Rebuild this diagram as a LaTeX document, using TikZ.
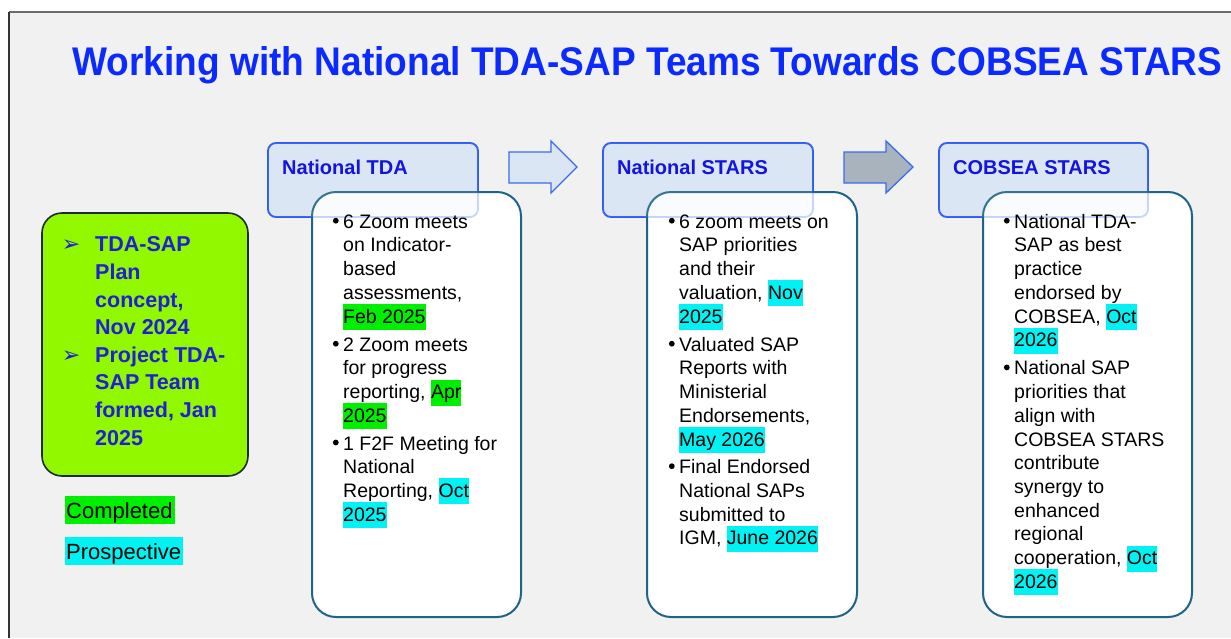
\documentclass[tikz,border=0pt]{standalone}
\usepackage{fontspec}
\setmainfont{Liberation Sans}
\newfontfamily\dejavu{DejaVu Sans}
\usepackage{graphicx}
\definecolor{bgc}{HTML}{F1F1F1}
\definecolor{titleblue}{HTML}{0A2AFF}
\definecolor{hdrtext}{HTML}{1414E0}
\definecolor{hdrfill}{HTML}{DAE6F4}
\definecolor{hdrborder}{HTML}{2A5BF5}
\definecolor{bodyborder}{HTML}{1E6485}
\definecolor{greenfill}{HTML}{92F800}
\definecolor{greenborder}{HTML}{1E2A38}
\definecolor{greentext}{HTML}{1F1FD6}
\definecolor{hlg}{HTML}{00EE00}
\definecolor{hlc}{HTML}{00F2F2}
\definecolor{arrowborder}{HTML}{3A6CF0}
\definecolor{arrowgray}{HTML}{A9B3BD}
\newcommand\hlt[2]{\setbox0\hbox{#2}\rlap{\color{#1}\smash{\rule[-7pt]{\wd0}{26pt}}}\box0}
\newcommand\hlleg[2]{\setbox0\hbox{#2}\rlap{\color{#1}\smash{\rule[-5.5pt]{\dimexpr\wd0+2pt\relax}{27.5pt}}}\box0}
\newcommand\bul{\strut\llap{\raisebox{4.6pt}{\tikz\fill (0,0) circle (2.9pt);}\hspace{4.5pt}}}
\newcommand\garr{\strut\llap{{\fontsize{22}{22}\dejavu ➢}\hspace{15pt}}}
\tikzset{
  hdrbox/.style={draw=hdrborder, line width=1.8pt, fill=hdrfill, rounded corners=8pt},
  hdrover/.style={draw=hdrborder, draw opacity=0.25, fill=hdrfill, fill opacity=0.12, line width=1.8pt, rounded corners=8pt},
  bodybox/.style={draw=bodyborder, line width=2pt, fill=white, rounded corners=24pt},
  hdrlabel/.style={font=\bfseries\fontsize{20}{24}\selectfont, text=hdrtext, inner sep=0, anchor=base west},
  bodytext/.style={font=\fontsize{19.5}{23.7}\selectfont, align=left, inner sep=0, anchor=north west, text=black},
  blockarrow/.style={draw=arrowborder, line width=1.3pt, line join=miter},
}
\begin{document}
\begin{tikzpicture}[x=1pt,y=-1pt]
\useasboundingbox (0,0) rectangle (1231,638);
% background
\fill[white] (0,0) rectangle (1231,638);
\fill[bgc] (9,12) rectangle (1231,638);
\draw[line width=2pt, color=black!58] (9,12) -- (1231,12);
\draw[line width=1.6pt, color=black!80] (9,12) -- (9,638);
% title
\node[anchor=base, inner sep=0, text=titleblue, font=\bfseries\fontsize{40}{44}\selectfont] (title) at (647.5,75)
  {\scalebox{0.926}[1]{Working with National TDA-SAP Teams Towards COBSEA STARS}};
% green box
\draw[fill=greenfill, draw=greenborder, line width=1.6pt, rounded corners=20pt] (42,213) rectangle (248,476);
\node[font=\bfseries\fontsize{21.5}{27.6}\selectfont, text=greentext, align=left, inner sep=0, anchor=north west] (plan) at (95,232.4)
  {\garr TDA-SAP\\ Plan\\ concept,\\ Nov 2024\\ \garr Project TDA-\\ SAP Team\\ formed, Jan\\ 2025};
% legend
\node[font=\fontsize{22}{26}\selectfont, inner sep=0, anchor=base west] (completed) at (65,518) {\hlleg{hlg}{\hspace{1pt}Completed}};
\node[font=\fontsize{22}{26}\selectfont, inner sep=0, anchor=base west] (prospective) at (65,559) {\hlleg{hlc}{\hspace{1pt}Prospective}};
% block arrows
\draw[blockarrow, fill=hdrfill] (509,152) -- (551,152) -- (551,141) -- (577,167) -- (551,193) -- (551,183) -- (509,183) -- cycle;
\draw[blockarrow, fill=arrowgray] (844,152) -- (886,152) -- (886,141) -- (913,167) -- (886,193) -- (886,183) -- (844,183) -- cycle;
% column 1
\draw[hdrbox] (268,143) rectangle (478,217);
\draw[bodybox] (312,192) rectangle (521,617);
\draw[hdrover] (268,143) rectangle (478,217);
\node[hdrlabel] (h1) at (282,174) {National TDA};
\node[bodytext] (b1) at (343,211.4) {\bul 6 Zoom meets\\
on Indicator-\\
based\\
assessments,\\
\hlt{hlg}{Feb 2025}\\[4.5pt]
\bul 2 Zoom meets\\
for progress\\
reporting, \hlt{hlg}{Apr}\\
\hlt{hlg}{2025}\\[4pt]
\bul 1 F2F Meeting for\\
National\\
Reporting, \hlt{hlc}{Oct}\\
\hlt{hlc}{2025}};
% column 2
\draw[hdrbox] (603,143) rectangle (813,217);
\draw[bodybox] (647,192) rectangle (857,617);
\draw[hdrover] (603,143) rectangle (813,217);
\node[hdrlabel] (h2) at (617,174) {National STARS};
\node[bodytext] (b2) at (679,211.4) {\bul 6 zoom meets on\\
SAP priorities\\
and their\\
valuation, \hlt{hlc}{Nov}\\
\hlt{hlc}{2025}\\[4.5pt]
\bul Valuated SAP\\
Reports with\\
Ministerial\\
Endorsements,\\
\hlt{hlc}{May 2026}\\[4pt]
\bul Final Endorsed\\
National SAPs\\
submitted to\\
IGM, \hlt{hlc}{June 2026}};
% column 3
\draw[hdrbox] (939,143) rectangle (1148,217);
\draw[bodybox] (983,192) rectangle (1192,617);
\draw[hdrover] (939,143) rectangle (1148,217);
\node[hdrlabel] (h3) at (953,174) {COBSEA STARS};
\node[bodytext] (b3) at (1014,211.4) {\bul National TDA-\\
SAP as best\\
practice\\
endorsed by\\
COBSEA, \hlt{hlc}{Oct}\\
\hlt{hlc}{2026}\\[4.5pt]
\bul National SAP\\
priorities that\\
align with\\
COBSEA STARS\\
contribute\\
synergy to\\
enhanced\\
regional\\
cooperation, \hlt{hlc}{Oct}\\
\hlt{hlc}{2026}};
\end{tikzpicture}
\end{document}
